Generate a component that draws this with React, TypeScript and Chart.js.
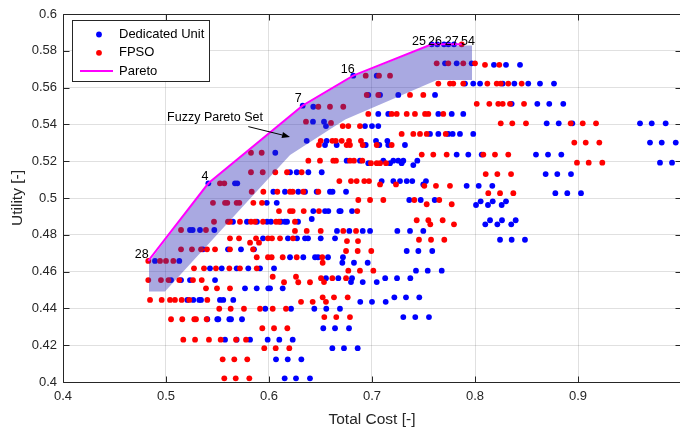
import React, { useEffect, useRef } from 'react';
import { Chart, registerables } from 'chart.js';

Chart.register(...registerables);

const FONT = '"Liberation Sans", Arial, Helvetica, sans-serif';

// Axis ticks
const costTicks = [0.4, 0.5, 0.6, 0.7, 0.8, 0.9, 1.0];
const utilityTicks = [0.4, 0.42, 0.44, 0.46, 0.48, 0.5, 0.52, 0.54, 0.56, 0.58, 0.6];

// Dedicated Unit: rows of [utility, [cost...]]
const dedicatedRows: [number, number[]][] = [
  [0.5835, [0.758, 0.7634, 0.7699, 0.7741, 0.7796]],
  [0.5732, [0.7709, 0.7822, 0.7968]],
  [0.5724, [0.8184, 0.8301, 0.8437]],
  [0.5665, [0.6818, 0.7046]],
  [0.5622, [0.7903, 0.7983, 0.8049, 0.8269, 0.8382, 0.8517, 0.8631, 0.8767]],
  [0.556, [0.6964, 0.7078, 0.7255, 0.7612]],
  [0.5512, [0.8356, 0.8605, 0.8721, 0.8857]],
  [0.5502, [0.6327]],
  [0.5496, [0.643]],
  [0.5457, [0.7061, 0.7158, 0.7644, 0.7774, 0.7886]],
  [0.5415, [0.6427, 0.6534]],
  [0.5391, [0.6553, 0.6932, 0.7, 0.7061]],
  [0.5406, [0.8696, 0.8813, 0.8945, 0.9602, 0.9716, 0.9851]],
  [0.5348, [0.7563, 0.7644, 0.7741, 0.7783, 0.7854, 0.7983]],
  [0.5311, [0.6366, 0.656, 0.7039, 0.7149]],
  [0.5288, [0.6544, 0.6657, 0.6939, 0.7071, 0.7158, 0.732]],
  [0.5301, [0.9699, 0.9813, 0.9949]],
  [0.5246, [0.6061]],
  [0.5236, [0.7822, 0.7935, 0.8065, 0.8592, 0.8709, 0.8838]],
  [0.5203, [0.6754, 0.6883, 0.711, 0.7207, 0.7255, 0.7304, 0.744]],
  [0.5189, [0.6964, 0.7175, 0.7288]],
  [0.5179, [0.7401]],
  [0.5192, [0.9796, 0.9913]],
  [0.514, [0.6204, 0.6269, 0.6382, 0.6512]],
  [0.513, [0.8686, 0.8799, 0.8932]],
  [0.5092, [0.7094, 0.7207, 0.7272, 0.7337, 0.7391, 0.7524]],
  [0.5074, [0.7498]],
  [0.5066, [0.7919, 0.8036, 0.8168]],
  [0.508, [0.5411, 0.567, 0.5692]],
  [0.5034, [0.6042, 0.6155, 0.6284, 0.635, 0.6463, 0.6592, 0.6617, 0.6748]],
  [0.5026, [0.878, 0.8896, 0.9029]],
  [0.4989, [0.7362, 0.7473, 0.7609]],
  [0.4982, [0.8055, 0.8172, 0.8301]],
  [0.4962, [0.801, 0.8126, 0.8259]],
  [0.4974, [0.5978, 0.6075]],
  [0.4929, [0.643, 0.6544, 0.6576, 0.6683, 0.6696, 0.6806]],
  [0.4886, [0.6415]],
  [0.4879, [0.8146, 0.8262, 0.8395]],
  [0.4857, [0.81, 0.8217, 0.8352]],
  [0.4871, [0.565, 0.5786, 0.5883, 0.5981, 0.6019, 0.6117, 0.6155, 0.6175, 0.6282]],
  [0.4826, [0.5233, 0.5259, 0.533, 0.5469]],
  [0.4821, [0.666, 0.678, 0.691, 0.6981, 0.7246, 0.7369, 0.7498]],
  [0.4781, [0.5942, 0.6184, 0.6272, 0.635, 0.6379, 0.6502, 0.6641]],
  [0.4773, [0.8243, 0.8356, 0.8485]],
  [0.4721, [0.5359, 0.5602, 0.5728, 0.5854]],
  [0.4712, [0.7337, 0.745, 0.7585]],
  [0.4678, [0.6204, 0.6333, 0.6447, 0.6476, 0.6573, 0.6718]],
  [0.4658, [0.4893, 0.5129]],
  [0.4648, [0.6712, 0.6825, 0.6958]],
  [0.4618, [0.5427, 0.5541, 0.5686, 0.5799, 0.5913, 0.6049]],
  [0.4605, [0.7427, 0.7541, 0.7677]],
  [0.4564, [0.6553, 0.6673, 0.6806, 0.7128, 0.7243, 0.7372]],
  [0.4543, [0.6796, 0.691, 0.7046]],
  [0.4554, [0.5049, 0.5146, 0.5233, 0.5476]],
  [0.4509, [0.5767, 0.5881, 0.5993, 0.601, 0.6133]],
  [0.446, [0.7217, 0.733, 0.7459]],
  [0.4436, [0.6886, 0.7, 0.7133]],
  [0.4446, [0.5207, 0.5265, 0.5323, 0.534, 0.5524, 0.5556, 0.5653]],
  [0.4398, [0.5964, 0.6214, 0.644, 0.6556, 0.6689]],
  [0.4353, [0.7304, 0.742, 0.7553]],
  [0.4341, [0.5401, 0.5498, 0.5508, 0.5615, 0.5631, 0.5738]],
  [0.4292, [0.6527, 0.6641, 0.6777]],
  [0.423, [0.5573, 0.5686, 0.5816, 0.5987, 0.61, 0.623]],
  [0.4184, [0.6615, 0.6728, 0.6861]],
  [0.4123, [0.6068, 0.6182, 0.6314]],
  [0.402, [0.6152, 0.6262, 0.6398]],
];

// FPSO: rows of [utility, [cost...]]
const fpsoRows: [number, number[]][] = [
  [0.5835, [0.7871]],
  [0.5732, [0.7628, 0.7741, 0.7886, 0.8]],
  [0.5724, [0.8097, 0.8236]],
  [0.5665, [0.6939, 0.7068, 0.7175]],
  [0.5622, [0.7644, 0.7757, 0.7789, 0.7886, 0.812, 0.8211, 0.825, 0.8323, 0.8453]],
  [0.556, [0.6949, 0.7061, 0.7369, 0.7498]],
  [0.5512, [0.8017, 0.8139, 0.8226, 0.8269, 0.834, 0.8476]],
  [0.5496, [0.6479, 0.6592, 0.6721]],
  [0.5457, [0.6964, 0.7191, 0.724, 0.7337, 0.7417, 0.7515, 0.7547, 0.7692]],
  [0.5415, [0.6359]],
  [0.5408, [0.6602]],
  [0.5391, [0.6716, 0.677, 0.6883]],
  [0.5406, [0.825, 0.8362, 0.8495, 0.8929, 0.9046, 0.9175]],
  [0.5348, [0.7288, 0.7401, 0.7466, 0.7531, 0.7716]],
  [0.5311, [0.6502, 0.6615, 0.6648, 0.6706, 0.6777, 0.6893]],
  [0.5288, [0.6485, 0.6754, 0.6786, 0.691, 0.7046, 0.7191]],
  [0.5301, [0.8964, 0.9075, 0.9207]],
  [0.5246, [0.5825, 0.5929]],
  [0.5236, [0.7483, 0.7595, 0.7725, 0.8081, 0.8194, 0.8323]],
  [0.5203, [0.6382, 0.6495, 0.6624, 0.665, 0.6786, 0.6825, 0.6906]],
  [0.5189, [0.699, 0.7046, 0.7078, 0.7136]],
  [0.5192, [0.899, 0.9104, 0.9236]],
  [0.514, [0.5825, 0.5939, 0.6061, 0.6175, 0.6317]],
  [0.513, [0.8104, 0.8217, 0.835]],
  [0.5092, [0.6683, 0.6796, 0.6851, 0.6925, 0.6971]],
  [0.5074, [0.7078, 0.7233]],
  [0.5066, [0.7508, 0.7621, 0.7757]],
  [0.508, [0.5524, 0.5566]],
  [0.5034, [0.5832, 0.5945, 0.6081, 0.6204, 0.623, 0.6333, 0.6479]],
  [0.5026, [0.8129, 0.8243, 0.8372]],
  [0.4989, [0.6867, 0.6981, 0.711, 0.7411, 0.7653]],
  [0.4966, [0.7531, 0.7774]],
  [0.4974, [0.5456, 0.5573, 0.5595, 0.5686, 0.5712, 0.5848, 0.5932]],
  [0.4929, [0.6097, 0.6204, 0.623, 0.6337, 0.6485, 0.6857]],
  [0.4879, [0.7434, 0.7547, 0.7686]],
  [0.4857, [0.7566, 0.7796]],
  [0.4871, [0.5466, 0.5602, 0.5621, 0.5718, 0.5825, 0.5864, 0.5942, 0.6068, 0.6097, 0.6252]],
  [0.4826, [0.5146, 0.5388]],
  [0.4821, [0.6252, 0.6366, 0.6502, 0.6721, 0.6845]],
  [0.4781, [0.5621, 0.5709, 0.5874, 0.599, 0.6029, 0.6107, 0.6233]],
  [0.4757, [0.5816, 0.5903]],
  [0.4766, [0.6757, 0.6864]],
  [0.4773, [0.7456, 0.7573, 0.7702]],
  [0.4721, [0.5146, 0.5252, 0.534, 0.5398, 0.5476, 0.5621, 0.5845]],
  [0.4712, [0.6748, 0.6861, 0.6993]],
  [0.4678, [0.5881, 0.599, 0.6026, 0.6133, 0.6269, 0.6517]],
  [0.4658, [0.4828, 0.4942, 0.5, 0.5071]],
  [0.4648, [0.6521]],
  [0.4618, [0.5272, 0.5369, 0.5485, 0.5615, 0.5718, 0.5881]],
  [0.4605, [0.677, 0.6883, 0.7013]],
  [0.4572, [0.6036, 0.6262]],
  [0.4542, [0.6146, 0.6284, 0.6398]],
  [0.4564, [0.6505, 0.6615, 0.6748]],
  [0.4543, [0.6534]],
  [0.4554, [0.4828, 0.4951, 0.5024, 0.5129, 0.5262, 0.5347]],
  [0.4509, [0.5388, 0.5495, 0.5621]],
  [0.446, [0.6521, 0.6631, 0.6764]],
  [0.4436, [0.6311, 0.6424, 0.6553]],
  [0.4446, [0.4845, 0.4958, 0.5039, 0.5087, 0.5152, 0.5226, 0.5401]],
  [0.4398, [0.5517, 0.5628, 0.5757, 0.5913, 0.6036, 0.6165]],
  [0.4353, [0.6537, 0.6653, 0.6786]],
  [0.4341, [0.5049, 0.5158, 0.5275, 0.5291, 0.5395]],
  [0.4292, [0.5935, 0.6049, 0.6178]],
  [0.423, [0.5168, 0.5282, 0.5417, 0.5531, 0.568, 0.5777]],
  [0.4184, [0.5954, 0.6065, 0.6197]],
  [0.4123, [0.555, 0.5663, 0.5789]],
  [0.402, [0.5566, 0.5677, 0.5809]],
];

// Pareto front
const paretoCost = [0.4828, 0.5411, 0.6327, 0.6818, 0.758, 0.7699, 0.7796, 0.7871];
const paretoUtility = [0.4658, 0.508, 0.5502, 0.5665, 0.5835, 0.5835, 0.5835, 0.5835];

// Pareto point labels
const labelText = ['28', '4', '7', '16', '25', '26', '27', '54'];
const labelCost = [0.4764, 0.5379, 0.6284, 0.6764, 0.7456, 0.7612, 0.7774, 0.7932];
const labelUtility = [0.469, 0.5116, 0.5538, 0.5699, 0.5853, 0.5853, 0.5853, 0.5853];

// Fuzzy Pareto set band (polygon)
const bandCost = [0.4835, 0.5408, 0.633, 0.6816, 0.7563, 0.7971, 0.7971, 0.7631, 0.674, 0.6204, 0.499, 0.4835];
const bandUtility = [0.4652, 0.5076, 0.5497, 0.566, 0.5829, 0.5829, 0.5641, 0.5641, 0.5427, 0.5234, 0.4492, 0.4492];

// Annotation
const annotationText = 'Fuzzy Pareto Set';
const annotationAt = [0.5476, 0.5439];
const arrowFrom = [0.5799, 0.5388];
const arrowTo = [0.6204, 0.5332];

const toPoints = (rows: [number, number[]][]) =>
  rows.flatMap(([u, costs]) => costs.map((c) => ({ x: c, y: u })));

const overlayPlugin = {
  id: 'overlay',
  beforeDatasetDraw(chart: any, args: any) {
    if (args.index !== 2) return;
    const { ctx, scales } = chart;
    const xs = scales.x, ys = scales.y;
    ctx.save();
    ctx.beginPath();
    bandCost.forEach((c, i) => {
      const px = xs.getPixelForValue(c);
      const py = ys.getPixelForValue(bandUtility[i]);
      if (i === 0) ctx.moveTo(px, py);
      else ctx.lineTo(px, py);
    });
    ctx.closePath();
    ctx.fillStyle = 'rgba(40,40,180,0.4)';
    ctx.fill();
    ctx.restore();
  },
  afterDraw(chart: any) {
    const { ctx, chartArea: a, scales } = chart;
    const xs = scales.x, ys = scales.y;
    ctx.save();
    const L = Math.round(a.left) + 0.5, R = Math.round(a.right) + 0.5;
    const T = Math.round(a.top) + 0.5, B = Math.round(a.bottom) + 0.5;
    // box
    ctx.strokeStyle = '#262626';
    ctx.lineWidth = 1;
    ctx.beginPath();
    ctx.rect(L, T, R - L, B - T);
    ctx.stroke();
    // inward ticks
    const tl = 6;
    ctx.beginPath();
    costTicks.forEach((v) => {
      const px = Math.round(xs.getPixelForValue(v)) + 0.5;
      ctx.moveTo(px, B); ctx.lineTo(px, B - tl);
      ctx.moveTo(px, T); ctx.lineTo(px, T + tl);
    });
    utilityTicks.forEach((v) => {
      const py = Math.round(ys.getPixelForValue(v)) + 0.5;
      ctx.moveTo(L, py); ctx.lineTo(L + tl, py);
      ctx.moveTo(R, py); ctx.lineTo(R - tl, py);
    });
    ctx.stroke();

    // pareto labels
    ctx.fillStyle = '#000';
    ctx.font = `12.5px ${FONT}`;
    ctx.textAlign = 'center';
    ctx.textBaseline = 'middle';
    labelText.forEach((t, i) => {
      ctx.fillText(t, xs.getPixelForValue(labelCost[i]), ys.getPixelForValue(labelUtility[i]));
    });

    // annotation text + arrow
    ctx.font = `12.5px ${FONT}`;
    ctx.fillText(annotationText, xs.getPixelForValue(annotationAt[0]), ys.getPixelForValue(annotationAt[1]));
    const x1 = xs.getPixelForValue(arrowFrom[0]), y1 = ys.getPixelForValue(arrowFrom[1]);
    const x2 = xs.getPixelForValue(arrowTo[0]), y2 = ys.getPixelForValue(arrowTo[1]);
    const ang = Math.atan2(y2 - y1, x2 - x1);
    const hl = 8, hw = 3;
    ctx.strokeStyle = '#000';
    ctx.lineWidth = 1;
    ctx.beginPath();
    ctx.moveTo(x1, y1);
    ctx.lineTo(x2 - hl * Math.cos(ang), y2 - hl * Math.sin(ang));
    ctx.stroke();
    ctx.beginPath();
    ctx.moveTo(x2, y2);
    ctx.lineTo(x2 - hl * Math.cos(ang) + hw * Math.sin(ang), y2 - hl * Math.sin(ang) - hw * Math.cos(ang));
    ctx.lineTo(x2 - hl * Math.cos(ang) - hw * Math.sin(ang), y2 - hl * Math.sin(ang) + hw * Math.cos(ang));
    ctx.closePath();
    ctx.fillStyle = '#000';
    ctx.fill();

    // legend
    const lx = Math.round(a.left) + 9, ly = Math.round(a.top) + 6, lw = 137, lh = 61;
    ctx.fillStyle = '#fff';
    ctx.fillRect(lx, ly, lw, lh);
    ctx.strokeStyle = '#262626';
    ctx.strokeRect(lx + 0.5, ly + 0.5, lw, lh);
    const rowsY = [ly + 14.5, ly + 32.8, ly + 51];
    ctx.fillStyle = '#0000ff';
    ctx.beginPath(); ctx.arc(lx + 27, rowsY[0], 2.9, 0, Math.PI * 2); ctx.fill();
    ctx.fillStyle = '#ff0000';
    ctx.beginPath(); ctx.arc(lx + 27, rowsY[1], 2.9, 0, Math.PI * 2); ctx.fill();
    ctx.strokeStyle = '#ff00ff';
    ctx.lineWidth = 2;
    ctx.beginPath(); ctx.moveTo(lx + 8, rowsY[2]); ctx.lineTo(lx + 41, rowsY[2]); ctx.stroke();
    ctx.fillStyle = '#000';
    ctx.font = `13px ${FONT}`;
    ctx.textAlign = 'left';
    ctx.textBaseline = 'middle';
    ['Dedicated Unit', 'FPSO', 'Pareto'].forEach((t, i) => ctx.fillText(t, lx + 47, rowsY[i]));

    // axis titles
    ctx.fillStyle = '#262626';
    ctx.font = `15.5px ${FONT}`;
    ctx.textAlign = 'center';
    ctx.textBaseline = 'middle';
    ctx.fillText('Total Cost [-]', (a.left + a.right) / 2, 420);
    ctx.translate(18, (a.top + a.bottom) / 2);
    ctx.rotate(-Math.PI / 2);
    ctx.fillText('Utility [-]', 0, 0);
    ctx.restore();
  },
};

export default function App() {
  const ref = useRef<HTMLCanvasElement>(null);
  useEffect(() => {
    document.documentElement.style.overflow = 'hidden';
    document.body.style.overflow = 'hidden';
    document.body.style.margin = '0';
    const canvas = ref.current;
    if (!canvas) return;
    const chart = new Chart(canvas, {
      type: 'scatter',
      data: {
        datasets: [
          {
            label: 'Dedicated Unit',
            data: toPoints(dedicatedRows),
            backgroundColor: '#0000ff',
            pointRadius: 2.9,
            pointBorderWidth: 0,
            order: 3,
          },
          {
            label: 'FPSO',
            data: toPoints(fpsoRows),
            backgroundColor: '#ff0000',
            pointRadius: 2.9,
            pointBorderWidth: 0,
            order: 2,
          },
          {
            label: 'Pareto',
            data: paretoCost.map((c, i) => ({ x: c, y: paretoUtility[i] })),
            showLine: true,
            borderColor: '#ff00ff',
            borderWidth: 2,
            pointRadius: 0,
            order: 1,
          } as any,
        ],
      },
      options: {
        responsive: false,
        devicePixelRatio: 1,
        animation: false,
        events: [],
        layout: { padding: { top: 14, right: 9, left: 0, bottom: 0 } },
        plugins: { legend: { display: false }, tooltip: { enabled: false } },
        scales: {
          x: {
            type: 'linear',
            min: 0.4,
            max: 1.0,
            afterBuildTicks: (s: any) => { s.ticks = costTicks.map((v) => ({ value: v })); },
            afterFit: (s: any) => { s.height = 49; },
            ticks: {
              autoSkip: false,
              maxRotation: 0,
              padding: 7,
              color: '#262626',
              font: { family: FONT, size: 13 },
              callback: (v: any) => (Number(v) > 0.99 ? '' : Number(v).toFixed(1)),
            },
            grid: { color: 'rgba(38,38,38,0.14)', drawTicks: false, lineWidth: 1 },
            border: { display: false },
          },
          y: {
            type: 'linear',
            min: 0.4,
            max: 0.6,
            afterBuildTicks: (s: any) => { s.ticks = utilityTicks.map((v) => ({ value: v })); },
            afterFit: (s: any) => { s.width = 63; },
            ticks: {
              padding: 6,
              color: '#262626',
              font: { family: FONT, size: 13 },
              callback: (v: any) => String(parseFloat(Number(v).toFixed(2))),
            },
            grid: { color: 'rgba(38,38,38,0.14)', drawTicks: false, lineWidth: 1 },
            border: { display: false },
          },
        },
      },
      plugins: [overlayPlugin],
    } as any);
    return () => chart.destroy();
  }, []);
  return (
    <div style={{ position: 'absolute', left: 0, top: 0, width: 690, height: 431, overflow: 'hidden' }}>
      <canvas ref={ref} width={690} height={431} style={{ width: 690, height: 431, display: 'block' }} />
    </div>
  );
}
